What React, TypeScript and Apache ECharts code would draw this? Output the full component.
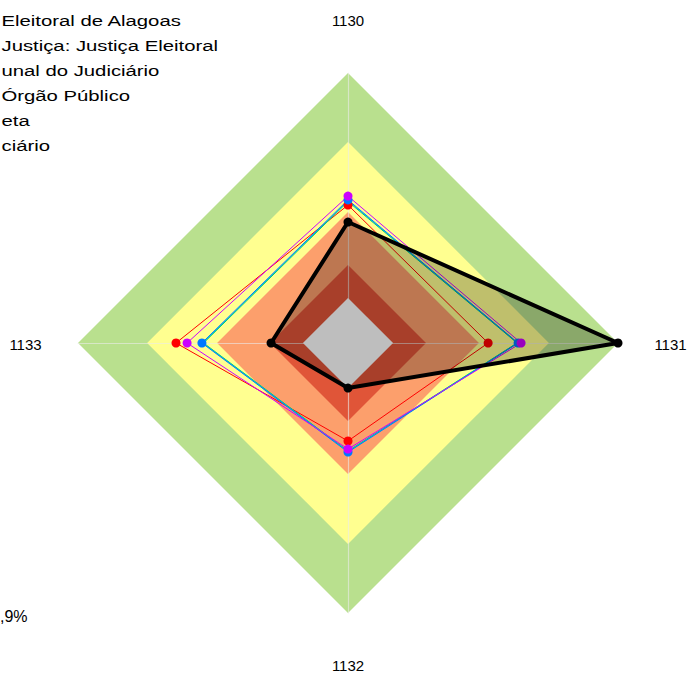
import React, { useEffect, useRef } from "react";
import * as echarts from "echarts";

// Axis categories, clockwise from the top
const categories = ["1130", "1131", "1132", "1133"];

// Background bands (outer limit of each band, as a share of the axis max)
const bandLimits = [1.0, 0.744, 0.485, 0.289];
const bandColors = ["#B9E08E", "#FFFF90", "#FC9F6C", "#E05538"];
const centerLimit = 0.167;
const centerColor = "#BEBEBE";

// Legend lines (as visible)
const legendLines = [
  "Eleitoral de Alagoas",
  "Justiça: Justiça Eleitoral",
  "unal do Judiciário",
  "Órgão Público",
  "eta",
  "ciário",
];
const footNote = ",9%";

// Series values, in the same order as categories (top, right, bottom, left)
const seriesRed = [0.511, 0.519, 0.363, 0.637];
const seriesGreen = [0.524, 0.626, 0.4, 0.535];
const seriesCyan = [0.527, 0.628, 0.402, 0.538];
const seriesBlue = [0.53, 0.63, 0.404, 0.541];
const seriesMagenta = [0.544, 0.641, 0.393, 0.596];
const seriesBlack = [0.448, 1.0, 0.167, 0.285];

// ECharts radar goes counter-clockwise: top, left, bottom, right
const toRadar = (a: any[]) => [a[0], a[3], a[2], a[1]];
const radarNames = toRadar(categories);

const CX = 348;
const CY = 343;
const R = 270;
const LABEL_DIST = 322.5;

export default function App() {
  const ref = useRef<HTMLDivElement>(null);

  useEffect(() => {
    if (!ref.current) return;
    const chart = echarts.init(ref.current, null, { renderer: "svg" });

    const labelPos = [
      [CX, CY - LABEL_DIST],
      [CX + LABEL_DIST, CY + 1.5],
      [CX, CY + LABEL_DIST],
      [CX - LABEL_DIST, CY + 1.5],
    ];

    const graphics: any[] = [];
    categories.forEach((c, i) => {
      graphics.push({
        type: "text",
        x: labelPos[i][0],
        y: labelPos[i][1],
        silent: true,
        style: {
          text: c,
          font: '15px "Liberation Sans", Arial, sans-serif',
          fill: "#000",
          align: "center",
          verticalAlign: "middle",
          textAlign: "center",
          textVerticalAlign: "middle",
        },
      });
    });
    legendLines.forEach((t, i) => {
      graphics.push({
        type: "text",
        x: 1.5,
        y: 21 + i * 25,
        scaleX: 1.31,
        silent: true,
        style: {
          text: t,
          font: '15.5px "Liberation Sans", Arial, sans-serif',
          fill: "#000",
          align: "left",
          verticalAlign: "middle",
          textAlign: "left",
          textVerticalAlign: "middle",
        },
      });
    });
    graphics.push({
      type: "text",
      x: 0,
      y: 616,
      silent: true,
      style: {
        text: footNote,
        font: '16px "Liberation Sans", Arial, sans-serif',
        fill: "#000",
        align: "left",
        verticalAlign: "middle",
        textAlign: "left",
        textVerticalAlign: "middle",
      },
    });

    const lineSeries = (
      name: string,
      values: number[],
      color: string,
      showSymbol: boolean
    ) => ({
      type: "radar",
      name,
      z: 3,
      symbol: showSymbol ? "circle" : "none",
      symbolSize: 9,
      data: [
        {
          value: toRadar(values),
          name,
          lineStyle: { color, width: 1 },
          itemStyle: { color, borderWidth: 0 },
        },
      ],
    });

    chart.setOption({
      animation: false,
      backgroundColor: "#fff",
      radar: {
        center: [CX, CY],
        radius: R,
        startAngle: 90,
        shape: "polygon",
        z: 2,
        indicator: radarNames.map((n) => ({ name: n, min: 0, max: 1 })),
        axisName: { show: false },
        splitNumber: 1,
        splitLine: { show: false },
        splitArea: { show: false },
        axisLine: { lineStyle: { color: "rgba(235,235,235,0.6)", width: 1.2 } },
        axisTick: { show: false },
        axisLabel: { show: false },
      },
      graphic: graphics,
      series: [
        {
          type: "radar",
          name: "bands",
          z: 1,
          silent: true,
          symbol: "none",
          data: bandLimits.map((v, i) => ({
            value: [v, v, v, v],
            name: "band" + i,
            lineStyle: { width: 0, opacity: 0 },
            areaStyle: { color: bandColors[i], opacity: 1 },
          })),
        },
        lineSeries(legendLines[4], seriesRed, "#FF0000", true),
        lineSeries(legendLines[3], seriesGreen, "#00D060", false),
        lineSeries(legendLines[2], seriesCyan, "#00C8D0", false),
        lineSeries(legendLines[1], seriesBlue, "#0078FF", true),
        lineSeries(legendLines[5], seriesMagenta, "#CC00FF", true),
        {
          type: "radar",
          name: legendLines[0] + " area",
          z: 4,
          silent: true,
          symbol: "none",
          data: [
            {
              value: toRadar(seriesBlack),
              name: legendLines[0],
              lineStyle: { width: 0, opacity: 0 },
              areaStyle: { color: "rgba(0,0,0,0.25)", opacity: 1 },
            },
          ],
        },
        {
          type: "radar",
          name: "center",
          z: 5,
          silent: true,
          symbol: "none",
          data: [
            {
              value: [centerLimit, centerLimit, centerLimit, centerLimit],
              name: "center",
              lineStyle: { width: 0, opacity: 0 },
              areaStyle: { color: centerColor, opacity: 1 },
            },
          ],
        },
        {
          type: "radar",
          name: legendLines[0],
          z: 6,
          symbol: "circle",
          symbolSize: 9,
          data: [
            {
              value: toRadar(seriesBlack),
              name: legendLines[0],
              lineStyle: { color: "#000", width: 4 },
              itemStyle: { color: "#000", borderWidth: 0 },
            },
          ],
        },
      ],
    });

    return () => chart.dispose();
  }, []);

  return (
    <div
      ref={ref}
      style={{ position: "fixed", left: 0, top: 0, width: 690, height: 675 }}
    />
  );
}
